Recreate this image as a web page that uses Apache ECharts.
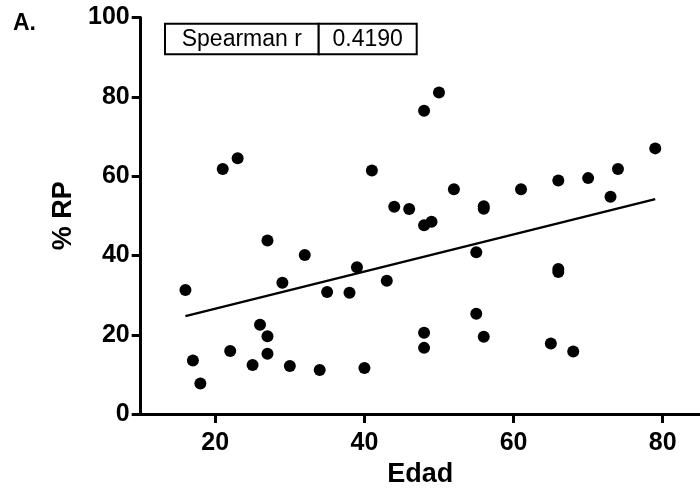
<!DOCTYPE html>
<html>
<head>
<meta charset="utf-8">
<script src="https://cdn.jsdelivr.net/npm/echarts@6/dist/echarts.min.js"></script>
<style>
  html, body { margin: 0; padding: 0; background: #fff; }
  #chart { width: 700px; height: 493px; }
</style>
</head>
<body>
<div id="chart"></div>
<script>
// Age (years) of each subject and the matching % RP value
const edad = [16, 17, 18, 21, 22, 23, 25, 26, 27, 27, 27, 29, 30, 32, 34, 35, 38, 39, 40, 41,
  43, 44, 46, 48, 48, 48, 48, 49, 50, 52, 55, 55, 56, 56, 56, 61, 65, 66, 66, 66, 68, 70, 73, 74, 79];
const rp = [31.3, 13.5, 7.7, 61.8, 15.9, 64.5, 12.4, 22.5, 43.8, 19.6, 15.2, 33.1, 12.1, 40.1, 11.1, 30.8, 30.6, 37.0, 11.6, 61.4,
  33.6, 52.3, 51.7, 76.5, 47.6, 20.5, 16.7, 48.5, 81.1, 56.7, 40.8, 25.3, 51.8, 52.4, 19.5, 56.7, 17.8, 58.9, 36.6, 35.8, 15.8, 59.5, 54.8, 61.8, 67.0];

// Fitted trend line end points
const fitX = [16, 79];
const fitY = [24.7, 54.2];

// Axis tick labels
const xTicks = [20, 40, 60, 80];
const yTicks = [0, 20, 40, 60, 80, 100];

const spearmanLabel = 'Spearman r';
const spearmanValue = '0.4190';
const panelLabel = 'A.';

const FONT = '"Liberation Sans", Arial, Helvetica, sans-serif';
const NARROW = '"Liberation Sans Narrow", "Liberation Sans", Arial, sans-serif';

const chart = echarts.init(document.getElementById('chart'), null, { renderer: 'canvas' });

const points = edad.map((x, i) => [x, rp[i]]);
const fitLine = fitX.map((x, i) => [x, fitY[i]]);

const axisLineStyle = { color: '#000', width: 3 };
const tickFont = { fontSize: 25, fontWeight: 'bold', color: '#000', fontFamily: NARROW };

chart.setOption({
  animation: false,
  backgroundColor: '#fff',
  textStyle: { fontFamily: FONT },
  grid: { left: 140.7, top: 17.5, bottom: 78.5, right: -6, containLabel: false },
  xAxis: {
    type: 'value',
    min: 10,
    max: 85,
    name: 'Edad',
    nameLocation: 'middle',
    nameGap: 41,
    nameTextStyle: { fontSize: 27, fontWeight: 'bold', color: '#000', fontFamily: FONT },
    axisLine: { show: true, onZero: false, lineStyle: axisLineStyle },
    axisTick: { show: true, customValues: xTicks, length: 9, lineStyle: { color: '#000', width: 3 } },
    axisLabel: Object.assign({ customValues: xTicks, margin: 17 }, tickFont),
    splitLine: { show: false }
  },
  yAxis: {
    type: 'value',
    min: 0,
    max: 100,
    interval: 20,
    name: '% RP',
    nameLocation: 'middle',
    nameGap: 57,
    nameTextStyle: { fontSize: 27, fontWeight: 'bold', color: '#000', fontFamily: FONT },
    axisLine: { show: true, lineStyle: axisLineStyle },
    axisTick: { show: true, length: 9, lineStyle: { color: '#000', width: 3 } },
    axisLabel: Object.assign({
      margin: 11,
      formatter: v => (yTicks.indexOf(v) >= 0 ? String(v) : '')
    }, tickFont),
    splitLine: { show: false }
  },
  series: [
    {
      type: 'scatter',
      data: points,
      symbol: 'circle',
      symbolSize: 12,
      itemStyle: { color: '#000', opacity: 1 },
      z: 3
    },
    {
      type: 'line',
      data: fitLine,
      symbol: 'none',
      lineStyle: { color: '#000', width: 2.5 },
      z: 2
    }
  ],
  graphic: [
    {
      type: 'text',
      left: 13,
      top: 12,
      style: { text: panelLabel, fill: '#000', font: 'bold 23px ' + FONT }
    },
    {
      type: 'group',
      left: 164,
      top: 22.7,
      children: [
        { type: 'rect', shape: { x: 0, y: 0, width: 153.7, height: 30.6 }, style: { fill: '#fff', stroke: '#000', lineWidth: 2 } },
        { type: 'rect', shape: { x: 153.7, y: 0, width: 98, height: 30.6 }, style: { fill: '#fff', stroke: '#000', lineWidth: 2 } },
        { type: 'text', x: 76.8, y: 15.8, style: { text: spearmanLabel, font: '23px ' + FONT, fill: '#000', align: 'center', verticalAlign: 'middle' } },
        { type: 'text', x: 202.7, y: 15.8, style: { text: spearmanValue, font: '23px ' + FONT, fill: '#000', align: 'center', verticalAlign: 'middle' } }
      ]
    }
  ]
});
</script>
</body>
</html>
